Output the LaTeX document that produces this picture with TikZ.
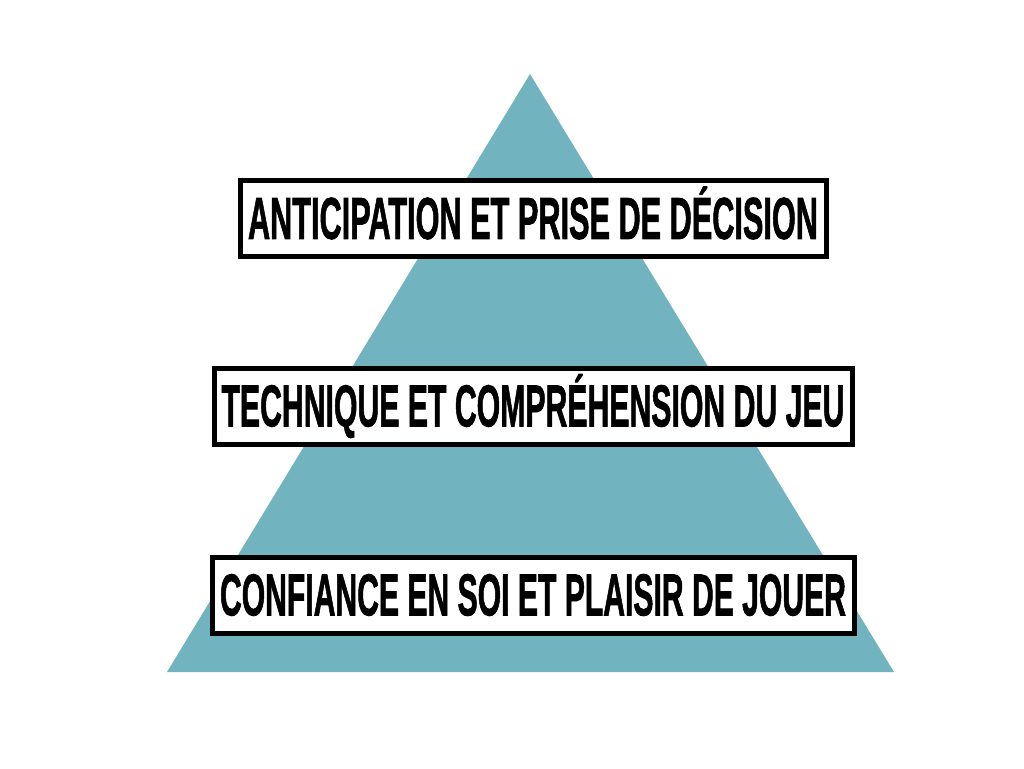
\documentclass[tikz,border=0pt]{standalone}
\usepackage{fontspec}
\setmainfont{Liberation Sans}[FakeBold=1.6]
\usepackage{graphicx}
\definecolor{pyrteal}{HTML}{72B3C0}
\newlength\pxu
\setlength\pxu{0.5pt}
\tikzset{
  levelbox/.style={draw=black, line width=5\pxu, fill=white, inner sep=0pt,
    minimum height=76\pxu, text height=20.3pt, text depth=0pt, align=center},
}
\newcommand{\lvltext}[2]{\resizebox{#1\pxu}{\height}{\fontsize{29.5}{29.5}\selectfont\bfseries #2}}
\begin{document}
\begin{tikzpicture}[x=0.5pt,y=-0.5pt]
\useasboundingbox (0,0) rectangle (1024,768);
\fill[white] (0,0) rectangle (1024,768);
\fill[pyrteal] (530,74) -- (894,672) -- (167,672) -- cycle;
\node[levelbox, minimum width=586\pxu] (top) at (533,218.5) {\lvltext{570}{ANTICIPATION ET PRISE DE DÉCISION}};
\node[levelbox, minimum width=638\pxu] (mid) at (533,406) {\lvltext{623}{TECHNIQUE ET COMPRÉHENSION DU JEU}};
\node[levelbox, minimum width=642\pxu] (bot) at (533,595) {\lvltext{626}{CONFIANCE EN SOI ET PLAISIR DE JOUER}};
\end{tikzpicture}
\end{document}
